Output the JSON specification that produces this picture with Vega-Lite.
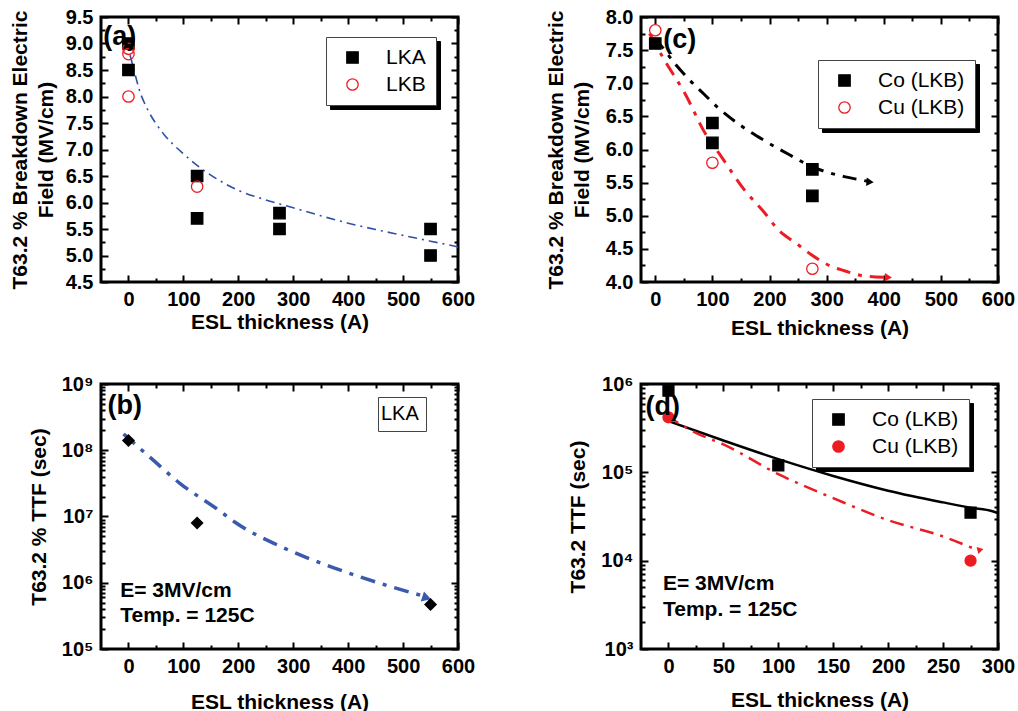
{
  "$schema": "https://vega.github.io/schema/vega-lite/v6.json",
  "background": "white",
  "padding": {"left": 7, "top": 5, "right": 0, "bottom": 0},
  "config": {
    "font": "Liberation Sans",
    "view": {"stroke": "black", "strokeWidth": 3},
    "axis": {
      "domain": false, "ticks": false, "grid": true, "gridColor": "black", "gridOpacity": 1, "gridWidth": 2,
      "labelFont": "Liberation Sans", "labelFontSize": 20, "labelFontWeight": "bold", "labelColor": "black",
      "titleFont": "Liberation Sans", "titleFontSize": 21, "titleFontWeight": "bold", "titleColor": "black",
      "labelOverlap": false, "labelFlush": false
    },
    "legend": {
      "orient": "none", "labelFont": "Liberation Sans", "labelFontSize": 21, "labelFontWeight": "normal",
      "labelColor": "black", "padding": 10, "rowPadding": 5, "symbolOffset": 6, "labelOffset": 23,
      "symbolSize": 130, "symbolOpacity": 1, "fillColor": "white", "strokeColor": "#444", "strokeWidth": 1, "symbolStrokeWidth": 1.3
    }
  },
  "resolve": {
    "scale": {"shape": "independent", "fill": "independent", "stroke": "independent", "opacity": "independent", "size": "independent"},
    "legend": {"shape": "independent", "fill": "independent", "stroke": "independent", "opacity": "independent", "size": "independent"}
  },
  "datasets": {
    "ptsA": [
      {"x": 0, "y": 9.0, "series": "LKA"}, {"x": 0, "y": 8.5, "series": "LKA"},
      {"x": 125, "y": 6.5, "series": "LKA"}, {"x": 125, "y": 5.7, "series": "LKA"},
      {"x": 275, "y": 5.8, "series": "LKA"}, {"x": 275, "y": 5.5, "series": "LKA"},
      {"x": 550, "y": 5.5, "series": "LKA"}, {"x": 550, "y": 5.0, "series": "LKA"},
      {"x": 0, "y": 8.9, "series": "LKB"}, {"x": 0, "y": 8.8, "series": "LKB"},
      {"x": 0, "y": 8.0, "series": "LKB"}, {"x": 125, "y": 6.3, "series": "LKB"}
    ],
    "fitA": [
      {"x": 3, "y": 8.78}, {"x": 10, "y": 8.5}, {"x": 20, "y": 8.12}, {"x": 35, "y": 7.75}, {"x": 50, "y": 7.49},
      {"x": 65, "y": 7.28}, {"x": 80, "y": 7.11}, {"x": 100, "y": 6.92}, {"x": 125, "y": 6.7}, {"x": 160, "y": 6.45},
      {"x": 200, "y": 6.23}, {"x": 250, "y": 6.05}, {"x": 300, "y": 5.9}, {"x": 350, "y": 5.75}, {"x": 400, "y": 5.61},
      {"x": 450, "y": 5.49}, {"x": 500, "y": 5.38}, {"x": 550, "y": 5.27}, {"x": 600, "y": 5.16}, {"x": 615, "y": 5.12}
    ],
    "labA": [{"x": -46, "y": 9.12, "label": "(a)"}],
    "ptsB": [
      {"x": 0, "y": 1.4e8, "series": "LKA"}, {"x": 125, "y": 8e6, "series": "LKA"}, {"x": 550, "y": 4.7e5, "series": "LKA"}
    ],
    "fitB": [
      {"x": -9, "y": 1.76e8}, {"x": 41, "y": 7.6e7}, {"x": 93, "y": 3.2e7}, {"x": 164, "y": 1.25e7},
      {"x": 192, "y": 8.4e6}, {"x": 283, "y": 3.35e6}, {"x": 374, "y": 1.68e6}, {"x": 465, "y": 9.4e5}, {"x": 540, "y": 6.2e5}
    ],
    "arrB": [{"x": 543, "y": 5.9e5}],
    "labB": [
      {"x": -38, "y": 4.65e8, "label": "(b)", "kind": "panel"},
      {"x": -15, "y": 7.5e5, "label": "E= 3MV/cm", "kind": "note"},
      {"x": -15, "y": 3.15e5, "label": "Temp. = 125C", "kind": "note"}
    ],
    "ptsC": [
      {"x": 0, "y": 7.6, "series": "Co (LKB)"}, {"x": 100, "y": 6.4, "series": "Co (LKB)"},
      {"x": 100, "y": 6.1, "series": "Co (LKB)"}, {"x": 275, "y": 5.7, "series": "Co (LKB)"},
      {"x": 275, "y": 5.3, "series": "Co (LKB)"},
      {"x": 0, "y": 7.8, "series": "Cu (LKB)"}, {"x": 100, "y": 5.8, "series": "Cu (LKB)"},
      {"x": 275, "y": 4.2, "series": "Cu (LKB)"}
    ],
    "fitCco": [
      {"x": -2, "y": 7.68}, {"x": 11, "y": 7.56}, {"x": 33, "y": 7.31}, {"x": 60, "y": 7.05}, {"x": 86, "y": 6.83},
      {"x": 110, "y": 6.63}, {"x": 150, "y": 6.36}, {"x": 190, "y": 6.14}, {"x": 235, "y": 5.92}, {"x": 272, "y": 5.75},
      {"x": 300, "y": 5.66}, {"x": 331, "y": 5.59}, {"x": 360, "y": 5.54}, {"x": 372, "y": 5.52}
    ],
    "fitCcu": [
      {"x": -10, "y": 7.75}, {"x": 16, "y": 7.35}, {"x": 51, "y": 6.86}, {"x": 89, "y": 6.22}, {"x": 115, "y": 5.9},
      {"x": 156, "y": 5.39}, {"x": 191, "y": 5.05}, {"x": 214, "y": 4.8}, {"x": 249, "y": 4.57}, {"x": 272, "y": 4.42},
      {"x": 307, "y": 4.24}, {"x": 331, "y": 4.17}, {"x": 366, "y": 4.09}, {"x": 402, "y": 4.07}
    ],
    "arrCco": [{"x": 376, "y": 5.51}],
    "arrCcu": [{"x": 408, "y": 4.07}],
    "labC": [{"x": 14, "y": 7.65, "label": "(c)"}],
    "ptsD": [
      {"x": 0, "y": 8.4e5, "series": "Co (LKB)"}, {"x": 100, "y": 1.2e5, "series": "Co (LKB)"},
      {"x": 275, "y": 3.5e4, "series": "Co (LKB)"},
      {"x": 0, "y": 4.2e5, "series": "Cu (LKB)"}, {"x": 275, "y": 1e4, "series": "Cu (LKB)"}
    ],
    "fitDco": [
      {"x": 0, "y": 3.8e5}, {"x": 50, "y": 2.29e5}, {"x": 100, "y": 1.41e5}, {"x": 150, "y": 9.1e4},
      {"x": 200, "y": 6.2e4}, {"x": 250, "y": 4.57e4}, {"x": 275, "y": 3.98e4}, {"x": 295, "y": 3.63e4}, {"x": 300, "y": 3.45e4}
    ],
    "fitDcu": [
      {"x": -2, "y": 4.4e5}, {"x": 25, "y": 2.8e5}, {"x": 50, "y": 2.07e5}, {"x": 101, "y": 9.4e4}, {"x": 150, "y": 5.1e4},
      {"x": 199, "y": 2.9e4}, {"x": 251, "y": 1.86e4}, {"x": 278, "y": 1.37e4}
    ],
    "arrD": [{"x": 284, "y": 1.33e4}],
    "labD": [
      {"x": -21, "y": 5.5e5, "label": "(d)", "kind": "panel"},
      {"x": -5, "y": 5.43e3, "label": "E= 3MV/cm", "kind": "note"},
      {"x": -5, "y": 2.75e3, "label": "Temp. = 125C", "kind": "note"}
    ]
  },
  "concat": [
    {
      "width": 357, "height": 265,
      "encoding": {
        "x": {"field": "x", "type": "quantitative", "scale": {"domain": [-50, 600], "nice": false, "zero": false},
          "axis": {"title": "ESL thickness (A)", "values": [0,50,100,150,200,250,300,350,400,450,500,550,600], "format": "d",
            "labelExpr": "datum.value % 100 == 0 ? datum.label : ''",
            "gridDash": {"condition": {"test": "datum.value % 100 == 0", "value": [7,251,7]}, "value": [4,257,4]},
            "labelPadding": 7, "titlePadding": 2}},
        "y": {"field": "y", "type": "quantitative", "scale": {"domain": [4.5, 9.5], "nice": false, "zero": false},
          "axis": {"title": ["T63.2 % Breakdown Electric", "Field (MV/cm)"], "titleLineHeight": 26,
            "values": [4.5,4.75,5,5.25,5.5,5.75,6,6.25,6.5,6.75,7,7.25,7.5,7.75,8,8.25,8.5,8.75,9,9.25,9.5], "format": ".1f",
            "labelExpr": "abs(datum.value*2 - round(datum.value*2)) < 1e-6 ? datum.label : ''",
            "gridDash": {"condition": {"test": "abs(datum.value*2 - round(datum.value*2)) < 1e-6", "value": [7,343,7]}, "value": [4,349,4]},
            "labelPadding": 8, "titlePadding": 9}}
      },
      "layer": [
        {"data": {"name": "fitA"}, "mark": {"type": "line", "clip": true, "color": "#3050a8", "strokeWidth": 1.6, "strokeDash": [9,5,2,5], "interpolate": "monotone"}},
        {"data": {"name": "ptsA"}, "mark": {"type": "point", "size": 130, "strokeWidth": 1.3},
          "encoding": {
            "shape": {"field": "series", "type": "nominal", "scale": {"domain": ["LKA","LKB"], "range": ["square","circle"]}, "legend": {"title": null, "legendX": 225, "legendY": 20, "zindex": 1}},
            "fill": {"field": "series", "type": "nominal", "scale": {"domain": ["LKA","LKB"], "range": ["black","transparent"]}, "legend": {"title": null}},
            "stroke": {"field": "series", "type": "nominal", "scale": {"domain": ["LKA","LKB"], "range": ["black","#ec1c24"]}, "legend": {"title": null}},
            "opacity": {"field": "series", "type": "nominal", "scale": {"range": [1,1]}, "legend": {"title": null, "legendX": 229, "legendY": 24, "zindex": 0, "fillColor": "black", "strokeColor": "black", "labelColor": "black", "symbolFillColor": "black", "symbolStrokeColor": "black"}}
          }},
        {"data": {"name": "labA"}, "mark": {"type": "text", "align": "left", "baseline": "middle", "fontSize": 27, "fontWeight": "bold", "color": "black"}, "encoding": {"text": {"field": "label"}}}
      ]
    },
    {
      "width": 357, "height": 265,
      "encoding": {
        "x": {"field": "x", "type": "quantitative", "scale": {"domain": [-25, 600], "nice": false, "zero": false},
          "axis": {"title": "ESL thickness (A)", "values": [0,50,100,150,200,250,300,350,400,450,500,550,600], "format": "d",
            "labelExpr": "datum.value % 100 == 0 ? datum.label : ''",
            "gridDash": {"condition": {"test": "datum.value % 100 == 0", "value": [7,251,7]}, "value": [4,257,4]},
            "labelPadding": 7, "titlePadding": 8}},
        "y": {"field": "y", "type": "quantitative", "scale": {"domain": [4, 8], "nice": false, "zero": false},
          "axis": {"title": ["T63.2 % Breakdown Electric", "Field (MV/cm)"], "titleLineHeight": 26,
            "values": [4,4.25,4.5,4.75,5,5.25,5.5,5.75,6,6.25,6.5,6.75,7,7.25,7.5,7.75,8], "format": ".1f",
            "labelExpr": "abs(datum.value*2 - round(datum.value*2)) < 1e-6 ? datum.label : ''",
            "gridDash": {"condition": {"test": "abs(datum.value*2 - round(datum.value*2)) < 1e-6", "value": [7,343,7]}, "value": [4,349,4]},
            "labelPadding": 8, "titlePadding": 13}}
      },
      "layer": [
        {"data": {"name": "fitCco"}, "mark": {"type": "line", "clip": true, "color": "black", "strokeWidth": 3, "strokeDash": [14,8,4,8], "interpolate": "monotone"}},
        {"data": {"name": "fitCcu"}, "mark": {"type": "line", "clip": true, "color": "#ec1c24", "strokeWidth": 3, "strokeDash": [14,8,4,8], "interpolate": "monotone"}},
        {"data": {"name": "arrCco"}, "mark": {"type": "point", "shape": "triangle-right", "angle": 4, "size": 70, "filled": true, "color": "black", "opacity": 1}},
        {"data": {"name": "arrCcu"}, "mark": {"type": "point", "shape": "triangle-right", "angle": 2, "size": 70, "filled": true, "color": "#ec1c24", "opacity": 1}},
        {"data": {"name": "ptsC"}, "mark": {"type": "point", "size": 130, "strokeWidth": 1.3},
          "encoding": {
            "shape": {"field": "series", "type": "nominal", "scale": {"domain": ["Co (LKB)","Cu (LKB)"], "range": ["square","circle"]}, "legend": {"title": null, "legendX": 177, "legendY": 43, "zindex": 1}},
            "fill": {"field": "series", "type": "nominal", "scale": {"domain": ["Co (LKB)","Cu (LKB)"], "range": ["black","transparent"]}, "legend": {"title": null}},
            "stroke": {"field": "series", "type": "nominal", "scale": {"domain": ["Co (LKB)","Cu (LKB)"], "range": ["black","#ec1c24"]}, "legend": {"title": null}},
            "opacity": {"field": "series", "type": "nominal", "scale": {"range": [1,1]}, "legend": {"title": null, "legendX": 181, "legendY": 47, "zindex": 0, "fillColor": "black", "strokeColor": "black", "labelColor": "black", "symbolFillColor": "black", "symbolStrokeColor": "black"}}
          }},
        {"data": {"name": "labC"}, "mark": {"type": "text", "align": "left", "baseline": "middle", "fontSize": 27, "fontWeight": "bold", "color": "black"}, "encoding": {"text": {"field": "label"}}}
      ]
    },
    {
      "width": 357, "height": 265,
      "encoding": {
        "x": {"field": "x", "type": "quantitative", "scale": {"domain": [-50, 600], "nice": false, "zero": false},
          "axis": {"title": "ESL thickness (A)", "values": [0,50,100,150,200,250,300,350,400,450,500,550,600], "format": "d",
            "labelExpr": "datum.value % 100 == 0 ? datum.label : ''",
            "gridDash": {"condition": {"test": "datum.value % 100 == 0", "value": [7,251,7]}, "value": [4,257,4]},
            "labelPadding": 7, "titlePadding": 15}},
        "y": {"field": "y", "type": "quantitative", "scale": {"type": "log", "domain": [1e5, 1e9], "nice": false},
          "axis": {"title": "T63.2 % TTF (sec)",
            "values": [1e5,2e5,3e5,4e5,5e5,6e5,7e5,8e5,9e5,1e6,2e6,3e6,4e6,5e6,6e6,7e6,8e6,9e6,1e7,2e7,3e7,4e7,5e7,6e7,7e7,8e7,9e7,1e8,2e8,3e8,4e8,5e8,6e8,7e8,8e8,9e8,1e9],
            "labelExpr": "abs(log(datum.value)/LN10 - round(log(datum.value)/LN10)) < 1e-6 ? '10' + ['⁰','¹','²','³','⁴','⁵','⁶','⁷','⁸','⁹'][round(log(datum.value)/LN10)] : ''",
            "gridDash": {"condition": {"test": "abs(log(datum.value)/LN10 - round(log(datum.value)/LN10)) < 1e-6", "value": [7,343,7]}, "value": [4,349,4]},
            "labelPadding": 8, "titlePadding": 12}}
      },
      "layer": [
        {"data": {"name": "fitB"}, "mark": {"type": "line", "clip": true, "color": "#3a5aad", "strokeWidth": 3.5, "strokeDash": [15,8,4,8], "interpolate": "monotone"}},
        {"data": {"name": "arrB"}, "mark": {"type": "point", "shape": "triangle-right", "angle": 18, "size": 110, "filled": true, "color": "#3a5aad", "opacity": 1}},
        {"data": {"name": "ptsB"}, "mark": {"type": "point", "shape": "diamond", "size": 170, "filled": true, "color": "black", "opacity": 1}},
        {"data": {"name": "ptsB"}, "mark": {"type": "point", "size": 0, "strokeWidth": 0, "filled": true, "color": "black"},
          "encoding": {
            "shape": {"field": "series", "type": "nominal", "scale": {"domain": ["LKA"], "range": ["diamond"]}, "legend": {"title": null, "legendX": 277, "legendY": 13, "zindex": 1, "padding": 7, "symbolSize": 0, "symbolOffset": -10, "labelOffset": -14, "symbolOpacity": 0, "labelFontSize": 20}},
            "opacity": {"field": "series", "type": "nominal", "scale": {"range": [0,0]}, "legend": {"title": null, "legendX": 281, "legendY": 17, "zindex": 0, "padding": 7, "symbolSize": 0, "symbolOffset": -10, "labelOffset": -14, "fillColor": "black", "strokeColor": "black", "labelColor": "black", "symbolOpacity": 0, "labelFontSize": 20}}
          }},
        {"data": {"name": "labB"}, "mark": {"type": "text", "align": "left", "baseline": "middle", "fontWeight": "bold", "color": "black"},
          "encoding": {"text": {"field": "label"}, "size": {"field": "kind", "type": "nominal", "scale": {"domain": ["panel","note"], "range": [27,21]}, "legend": null}}}
      ]
    },
    {
      "width": 357, "height": 265,
      "encoding": {
        "x": {"field": "x", "type": "quantitative", "scale": {"domain": [-25, 300], "nice": false, "zero": false},
          "axis": {"title": "ESL thickness (A)", "values": [0,25,50,75,100,125,150,175,200,225,250,275,300], "format": "d",
            "labelExpr": "datum.value % 50 == 0 ? datum.label : ''",
            "gridDash": {"condition": {"test": "datum.value % 50 == 0", "value": [7,251,7]}, "value": [4,257,4]},
            "labelPadding": 7, "titlePadding": 13}},
        "y": {"field": "y", "type": "quantitative", "scale": {"type": "log", "domain": [1e3, 1e6], "nice": false},
          "axis": {"title": "T63.2 TTF (sec)",
            "values": [1e3,2e3,3e3,4e3,5e3,6e3,7e3,8e3,9e3,1e4,2e4,3e4,4e4,5e4,6e4,7e4,8e4,9e4,1e5,2e5,3e5,4e5,5e5,6e5,7e5,8e5,9e5,1e6],
            "labelExpr": "abs(log(datum.value)/LN10 - round(log(datum.value)/LN10)) < 1e-6 ? '10' + ['⁰','¹','²','³','⁴','⁵','⁶','⁷','⁸','⁹'][round(log(datum.value)/LN10)] : ''",
            "gridDash": {"condition": {"test": "abs(log(datum.value)/LN10 - round(log(datum.value)/LN10)) < 1e-6", "value": [7,343,7]}, "value": [4,349,4]},
            "labelPadding": 8, "titlePadding": 12}}
      },
      "layer": [
        {"data": {"name": "fitDco"}, "mark": {"type": "line", "clip": true, "color": "black", "strokeWidth": 2.5, "interpolate": "monotone"}},
        {"data": {"name": "fitDcu"}, "mark": {"type": "line", "clip": true, "color": "#ec1c24", "strokeWidth": 2.5, "strokeDash": [14,7,3,7], "interpolate": "monotone"}},
        {"data": {"name": "arrD"}, "mark": {"type": "point", "shape": "triangle-right", "angle": -15, "size": 50, "filled": true, "color": "#ec1c24", "opacity": 1}},
        {"data": {"name": "ptsD"}, "mark": {"type": "point", "size": 120, "strokeWidth": 1.3},
          "encoding": {
            "shape": {"field": "series", "type": "nominal", "scale": {"domain": ["Co (LKB)","Cu (LKB)"], "range": ["square","circle"]}, "legend": {"title": null, "legendX": 171, "legendY": 15, "zindex": 1}},
            "fill": {"field": "series", "type": "nominal", "scale": {"domain": ["Co (LKB)","Cu (LKB)"], "range": ["black","#ec1c24"]}, "legend": {"title": null}},
            "stroke": {"field": "series", "type": "nominal", "scale": {"domain": ["Co (LKB)","Cu (LKB)"], "range": ["black","#ec1c24"]}, "legend": {"title": null}},
            "opacity": {"field": "series", "type": "nominal", "scale": {"range": [1,1]}, "legend": {"title": null, "legendX": 175, "legendY": 19, "zindex": 0, "fillColor": "black", "strokeColor": "black", "labelColor": "black", "symbolFillColor": "black", "symbolStrokeColor": "black"}}
          }},
        {"data": {"name": "labD"}, "mark": {"type": "text", "align": "left", "baseline": "middle", "fontWeight": "bold", "color": "black"},
          "encoding": {"text": {"field": "label"}, "size": {"field": "kind", "type": "nominal", "scale": {"domain": ["panel","note"], "range": [27,21]}, "legend": null}}}
      ]
    }
  ],
  "columns": 2,
  "spacing": {"row": 32, "column": 66}
}
